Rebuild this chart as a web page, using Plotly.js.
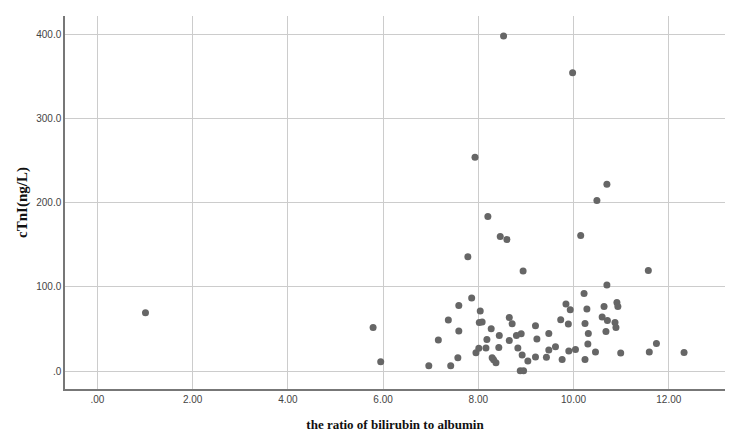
<!DOCTYPE html>
<html>
<head>
<meta charset="utf-8">
<script src="https://cdn.plot.ly/plotly-3.0.1.min.js"></script>
<style>
  html, body { margin: 0; padding: 0; background: #fff; }
  #chart { width: 741px; height: 444px; }
</style>
</head>
<body>
<div id="chart"></div>
<script>
// ratio of bilirubin to albumin vs cTnI
var ratio = [
    1.01, 5.79, 5.95, 6.96, 7.16, 7.37, 7.42, 7.57, 7.59, 7.59,
    7.78, 7.86, 7.93, 7.95, 8.01, 8.02, 8.04, 8.08, 8.16, 8.18,
    8.20, 8.27, 8.29, 8.32, 8.37, 8.43, 8.44, 8.46, 8.53, 8.60,
    8.65, 8.65, 8.71, 8.80, 8.83, 8.88, 8.90, 8.92, 8.94, 8.95,
    9.04, 9.20, 9.20, 9.23, 9.43, 9.48, 9.48, 9.62, 9.73, 9.76,
    9.84, 9.89, 9.90, 9.93, 9.98, 10.04, 10.15, 10.22, 10.24, 10.24,
    10.28, 10.30, 10.31, 10.46, 10.49, 10.60, 10.64, 10.68, 10.70, 10.70,
    10.71, 10.87, 10.89, 10.91, 10.93, 10.99, 11.57, 11.59, 11.74, 12.32
];
var ctni = [
    69.2, 51.8, 11.0, 6.3, 36.8, 60.6, 6.3, 15.8, 77.9, 47.5,
    135.7, 86.7, 254.2, 21.7, 26.9, 57.7, 71.3, 58.2, 27.3, 37.5,
    183.6, 50.2, 15.8, 13.4, 9.9, 28.0, 42.3, 159.9, 398.2, 156.3,
    63.7, 36.3, 56.2, 42.3, 27.3, 0.4, 44.3, 19.0, 118.8, 0.4,
    11.9, 53.8, 16.6, 38.0, 16.2, 44.7, 24.9, 28.9, 60.9, 13.8,
    79.5, 55.8, 23.8, 72.8, 354.6, 25.7, 161.1, 92.2, 56.5, 13.8,
    73.6, 32.1, 44.7, 22.6, 202.6, 64.1, 76.7, 47.0, 222.0, 102.1,
    60.1, 57.7, 51.8, 81.5, 76.7, 21.4, 119.5, 22.6, 32.8, 22.1
];

var xTickVals = [0, 2, 4, 6, 8, 10, 12];
var xTickText = ['.00', '2.00', '4.00', '6.00', '8.00', '10.00', '12.00'];
var yTickVals = [0, 100, 200, 300, 400];
var yTickText = ['.0', '100.0', '200.0', '300.0', '400.0'];

var trace = {
    x: ratio,
    y: ctni,
    type: 'scatter',
    mode: 'markers',
    marker: { size: 7, color: '#666666' },
    hoverinfo: 'x+y'
};

var tickFont = { family: 'Liberation Sans, Arial, sans-serif', size: 10, color: '#444444' };
var serif = 'Liberation Serif, Times New Roman, serif';

var layout = {
    width: 741,
    height: 444,
    margin: { l: 65, r: 16, t: 16, b: 55 },
    paper_bgcolor: '#ffffff',
    plot_bgcolor: '#ffffff',
    showlegend: false,
    xaxis: {
        range: [-0.68, 13.18],
        tickvals: xTickVals,
        ticktext: xTickText,
        tickfont: tickFont,
        showgrid: true,
        gridcolor: '#cccccc',
        gridwidth: 1,
        zeroline: false,
        showline: true,
        linecolor: '#777777',
        linewidth: 1.5,
        ticks: '',
        title: {
            text: 'the ratio of bilirubin to albumin',
            font: { family: serif, size: 13, color: '#111111', weight: 'bold' },
            standoff: 16
        },
        automargin: false
    },
    yaxis: {
        range: [-21.4, 422],
        tickvals: yTickVals,
        ticktext: yTickText,
        tickfont: tickFont,
        showgrid: true,
        gridcolor: '#cccccc',
        gridwidth: 1,
        zeroline: false,
        showline: true,
        linecolor: '#777777',
        linewidth: 1.5,
        ticks: '',
        title: {
            text: 'cTnI(ng/L)',
            font: { family: serif, size: 15, color: '#111111', weight: 'bold' },
            standoff: 5
        },
        automargin: false
    }
};

Plotly.newPlot('chart', [trace], layout, { displayModeBar: false, responsive: false });
</script>
</body>
</html>
